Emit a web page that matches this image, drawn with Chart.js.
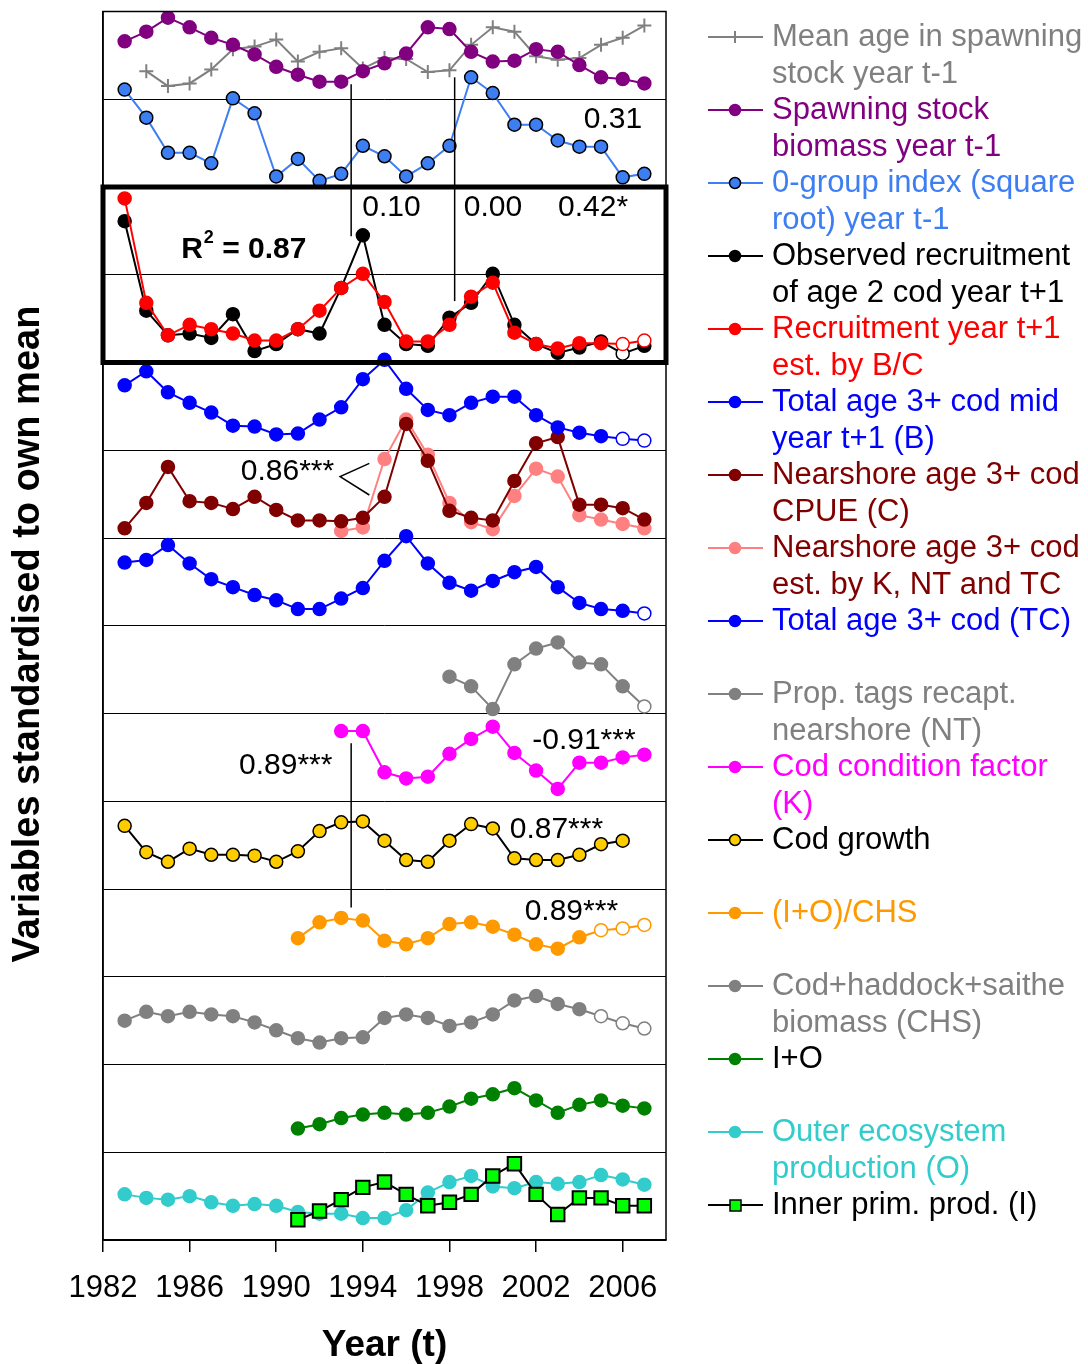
<!DOCTYPE html>
<html>
<head>
<meta charset="utf-8">
<script src="https://cdn.jsdelivr.net/npm/chart.js@4.4.1/dist/chart.umd.min.js"></script>
<style>
html, body { margin: 0; padding: 0; background: #fff; }
</style>
</head>
<body>
<canvas id="myChart" width="1088" height="1364"></canvas>
<script>
// Years and tick labels
var years = [1983,1984,1985,1986,1987,1988,1989,1990,1991,1992,1993,1994,1995,1996,1997,1998,1999,2000,2001,2002,2003,2004,2005,2006,2007];
var xTicks = [1982,1986,1990,1994,1998,2002,2006];

// Each series is shifted into its own band of the stacked plot (band height = 1 unit)
var meanAge   = [null,13.32,13.15,13.18,13.34,13.57,13.60,13.68,13.43,13.54,13.58,13.35,13.47,13.46,13.31,13.33,13.62,13.82,13.77,13.49,13.45,13.47,13.62,13.70,13.84];
var ssb       = [13.66,13.77,13.93,13.82,13.70,13.62,13.51,13.37,13.28,13.20,13.20,13.32,13.41,13.52,13.82,13.80,13.54,13.43,13.44,13.57,13.54,13.39,13.25,13.23,13.18];
var zeroGroup = [13.11,12.79,12.39,12.39,12.27,13.01,12.84,12.12,12.32,12.07,12.15,12.47,12.35,12.12,12.27,12.47,13.25,13.07,12.71,12.71,12.53,12.46,12.46,12.11,12.15];
var observed  = [11.61,10.59,10.31,10.33,10.28,10.55,10.13,10.21,10.38,10.33,10.85,11.45,10.43,10.21,10.19,10.51,10.68,11.01,10.43,10.21,10.11,10.17,10.24,10.10,10.19];
var recruitBC = [11.87,10.68,10.31,10.43,10.38,10.33,10.25,10.25,10.38,10.59,10.85,11.01,10.69,10.24,10.24,10.43,10.75,10.91,10.34,10.21,10.16,10.22,10.22,10.21,10.25];
var totalMid  = [9.74,9.90,9.66,9.54,9.43,9.28,9.27,9.18,9.19,9.35,9.49,9.81,10.03,9.70,9.46,9.40,9.54,9.61,9.61,9.40,9.26,9.20,9.16,9.13,9.11];
var cpue      = [8.11,8.40,8.81,8.42,8.40,8.33,8.47,8.32,8.20,8.20,8.19,8.23,8.47,9.30,8.88,8.31,8.23,8.20,8.65,9.08,9.15,8.38,8.38,8.34,8.21];
var cpueEst   = [null,null,null,null,null,null,null,null,null,null,8.08,8.12,8.90,9.35,8.95,8.40,8.18,8.10,8.48,8.79,8.70,8.26,8.21,8.16,8.11];
var totalTC   = [7.72,7.75,7.92,7.71,7.53,7.44,7.35,7.29,7.19,7.19,7.31,7.43,7.74,8.02,7.71,7.49,7.40,7.51,7.61,7.67,7.44,7.26,7.19,7.17,7.14];
var tagsNT    = [null,null,null,null,null,null,null,null,null,null,null,null,null,null,null,6.42,6.31,6.05,6.56,6.74,6.81,6.58,6.56,6.31,6.08];
var condK     = [null,null,null,null,null,null,null,null,null,null,5.80,5.80,5.33,5.26,5.28,5.54,5.71,5.85,5.55,5.35,5.14,5.44,5.44,5.50,5.53];
var growth    = [4.72,4.42,4.31,4.46,4.39,4.39,4.38,4.31,4.43,4.66,4.76,4.77,4.55,4.33,4.31,4.55,4.74,4.69,4.35,4.33,4.33,4.39,4.51,4.55,null];
var ioChs     = [null,null,null,null,null,null,null,null,3.44,3.62,3.67,3.64,3.41,3.37,3.44,3.60,3.62,3.57,3.48,3.37,3.32,3.45,3.53,3.55,3.59];
var chs       = [2.50,2.60,2.55,2.60,2.57,2.55,2.48,2.39,2.30,2.25,2.30,2.31,2.53,2.57,2.53,2.44,2.48,2.57,2.73,2.78,2.69,2.63,2.55,2.47,2.41];
var iPlusO    = [null,null,null,null,null,null,null,null,1.27,1.32,1.39,1.43,1.45,1.43,1.45,1.52,1.61,1.66,1.73,1.59,1.45,1.54,1.59,1.53,1.50];
var outerO    = [0.52,0.48,0.46,0.50,0.43,0.39,0.41,0.39,0.32,0.30,0.30,0.25,0.25,0.34,0.54,0.66,0.73,0.61,0.59,0.66,0.64,0.66,0.74,0.69,0.63];
var innerI    = [null,null,null,null,null,null,null,null,0.23,0.33,0.46,0.60,0.66,0.52,0.39,0.43,0.52,0.73,0.87,0.52,0.29,0.48,0.48,0.39,0.39];

var FONT = "'Liberation Sans', Arial, sans-serif";

function pts(values) {
    var out = [];
    years.forEach(function (yr, i) {
        if (values[i] !== null) out.push({ x: yr, y: values[i] });
    });
    return out;
}

// fill colours, with the last points (estimates) left open
function fills(values, color, nOpen, openAt) {
    var n = pts(values).length;
    var arr = [];
    for (var i = 0; i < n; i++) {
        var open = openAt ? openAt.indexOf(i - n) >= 0 : i >= n - nOpen;
        arr.push(open ? '#ffffff' : color);
    }
    return arr;
}

function serie(label, values, color, extra) {
    var ds = {
        label: label,
        data: pts(values),
        borderColor: color,
        borderWidth: 2,
        pointRadius: 6.5,
        pointBorderWidth: 1.5,
        pointBackgroundColor: color,
        pointBorderColor: color,
        tension: 0,
        spanGaps: false
    };
    return Object.assign(ds, extra || {});
}

var datasets = [
    serie('SSB', ssb, '#800080'),
    serie('Mean age', meanAge, '#808080', { pointStyle: 'cross', pointRadius: 7, pointBorderWidth: 2 }),
    serie('0-group', zeroGroup, '#3D7EF2', { pointBorderColor: '#000000', pointRadius: 6.5 }),
    serie('Recruitment est', recruitBC, '#FF0000', { pointBackgroundColor: fills(recruitBC, '#FF0000', 2) }),
    serie('Observed', observed, '#000000', { pointBackgroundColor: fills(observed, '#000000', 0, [-2]) }),
    serie('Total mid', totalMid, '#0000FF', { pointBackgroundColor: fills(totalMid, '#0000FF', 2) }),
    serie('CPUE', cpue, '#800000'),
    serie('CPUE est', cpueEst, '#FF8080'),
    serie('TC', totalTC, '#0000FF', { pointBackgroundColor: fills(totalTC, '#0000FF', 1) }),
    serie('NT', tagsNT, '#808080', { pointBackgroundColor: fills(tagsNT, '#808080', 1) }),
    serie('K', condK, '#FF00FF'),
    serie('Growth', growth, '#000000', { pointBackgroundColor: '#FFCC00', pointBorderColor: '#000000' }),
    serie('(I+O)/CHS', ioChs, '#FF9900', { pointBackgroundColor: fills(ioChs, '#FF9900', 3) }),
    serie('CHS', chs, '#808080', { pointBackgroundColor: fills(chs, '#808080', 3) }),
    serie('I+O', iPlusO, '#008000'),
    serie('Inner', innerI, '#000000', { pointStyle: 'rect', pointRadius: 9.5, pointBackgroundColor: '#00FF00', pointBorderColor: '#000000', pointBorderWidth: 2 }),
    serie('Outer', outerO, '#33CCCC')
];

// Correlation notes, in data units
var notes = [
    { text: '0.31', x: 2005.55, y: 12.77 },
    { text: '0.10', x: 1995.32, y: 11.76 },
    { text: '0.00', x: 2000.01, y: 11.76 },
    { text: '0.42*', x: 2004.63, y: 11.76 },
    { text: '0.86***', x: 1990.52, y: 8.76 },
    { text: '0.89***', x: 1990.44, y: 5.40 },
    { text: '-0.91***', x: 2004.21, y: 5.69 },
    { text: '0.87***', x: 2002.94, y: 4.68 },
    { text: '0.89***', x: 2003.63, y: 3.74 }
];
var noteLines = [
    [[1993.46, 13.17], [1993.46, 11.44]],
    [[1998.24, 13.25], [1998.24, 10.70]],
    [[1993.46, 5.66], [1993.46, 3.79]],
    [[1994.30, 8.85], [1992.95, 8.70], [1994.30, 8.49]]
];

var legendItems = [
    { lines: ['Mean age in spawning', 'stock year t-1'], text: '#808080', line: '#808080', fill: '#808080', edge: '#808080', mark: 'cross' },
    { lines: ['Spawning stock', 'biomass year t-1'], text: '#800080', line: '#800080', fill: '#800080', edge: '#800080' },
    { lines: ['0-group index (square', 'root) year t-1'], text: '#3D7EF2', line: '#3D7EF2', fill: '#3D7EF2', edge: '#000000' },
    { lines: ['Observed recruitment', 'of age 2 cod year t+1'], text: '#000000', line: '#000000', fill: '#000000', edge: '#000000' },
    { lines: ['Recruitment year t+1', 'est. by B/C'], text: '#FF0000', line: '#FF0000', fill: '#FF0000', edge: '#FF0000' },
    { lines: ['Total age 3+ cod mid', 'year t+1 (B)'], text: '#0000FF', line: '#0000FF', fill: '#0000FF', edge: '#0000FF' },
    { lines: ['Nearshore age 3+ cod', 'CPUE (C)'], text: '#800000', line: '#800000', fill: '#800000', edge: '#800000' },
    { lines: ['Nearshore age 3+ cod', 'est. by K, NT and TC'], text: '#800000', line: '#FF8080', fill: '#FF8080', edge: '#FF8080' },
    { lines: ['Total age 3+ cod (TC)'], text: '#0000FF', line: '#0000FF', fill: '#0000FF', edge: '#0000FF' },
    { lines: ['Prop. tags recapt.', 'nearshore (NT)'], text: '#808080', line: '#808080', fill: '#808080', edge: '#808080' },
    { lines: ['Cod condition factor', '(K)'], text: '#FF00FF', line: '#FF00FF', fill: '#FF00FF', edge: '#FF00FF' },
    { lines: ['Cod growth'], text: '#000000', line: '#000000', fill: '#FFCC00', edge: '#000000' },
    { lines: ['(I+O)/CHS'], text: '#FF9900', line: '#FF9900', fill: '#FF9900', edge: '#FF9900' },
    { lines: ['Cod+haddock+saithe', 'biomass (CHS)'], text: '#808080', line: '#808080', fill: '#808080', edge: '#808080' },
    { lines: ['I+O'], text: '#000000', line: '#008000', fill: '#008000', edge: '#008000' },
    { lines: ['Outer ecosystem', 'production (O)'], text: '#33CCCC', line: '#33CCCC', fill: '#33CCCC', edge: '#33CCCC' },
    { lines: ['Inner prim. prod. (I)'], text: '#000000', line: '#000000', fill: '#00FF00', edge: '#000000', mark: 'rect' }
];

var extras = {
    id: 'extras',
    afterDatasetsDraw: function (chart) {
        var ctx = chart.ctx, a = chart.chartArea;
        var xs = chart.scales.x, ys = chart.scales.y;
        ctx.save();
        // frame
        ctx.strokeStyle = '#000';
        ctx.lineWidth = 1.5;
        ctx.strokeRect(a.left, a.top, a.right - a.left, a.bottom - a.top);
        // thick box round the recruitment panel
        ctx.lineWidth = 5;
        var yb1 = ys.getPixelForValue(12), yb2 = ys.getPixelForValue(10);
        ctx.strokeRect(a.left, yb1, a.right - a.left, yb2 - yb1);
        // connector lines
        ctx.lineWidth = 1.5;
        noteLines.forEach(function (l) {
            ctx.beginPath();
            l.forEach(function (p, i) {
                var px = xs.getPixelForValue(p[0]), py = ys.getPixelForValue(p[1]);
                if (i === 0) ctx.moveTo(px, py); else ctx.lineTo(px, py);
            });
            ctx.stroke();
        });
        // notes
        ctx.fillStyle = '#000';
        ctx.font = '30px ' + FONT;
        ctx.textAlign = 'center';
        ctx.textBaseline = 'middle';
        notes.forEach(function (n) {
            ctx.fillText(n.text, xs.getPixelForValue(n.x), ys.getPixelForValue(n.y));
        });
        // R2 label
        var rx = xs.getPixelForValue(1985.61), ry = ys.getPixelForValue(11.29);
        ctx.textAlign = 'left';
        ctx.font = 'bold 30px ' + FONT;
        ctx.fillText('R', rx, ry);
        var w = ctx.measureText('R').width;
        ctx.font = 'bold 18px ' + FONT;
        ctx.fillText('2', rx + w + 1, ry - 11);
        var w2 = ctx.measureText('2').width;
        ctx.font = 'bold 30px ' + FONT;
        ctx.fillText(' = 0.87', rx + w + w2 + 1, ry);
        ctx.restore();
    },
    afterDraw: function (chart) {
        var ctx = chart.ctx;
        ctx.save();
        // axis titles
        ctx.fillStyle = '#000';
        ctx.textAlign = 'center';
        ctx.textBaseline = 'middle';
        ctx.font = 'bold 37px ' + FONT;
        ctx.fillText('Year (t)', (chart.chartArea.left + chart.chartArea.right) / 2, 1346);
        ctx.font = 'bold 38px ' + FONT;
        ctx.translate(29, 634);
        ctx.rotate(-Math.PI / 2);
        ctx.fillText('Variables standardised to own mean', 0, 0);
        ctx.restore();

        // legend
        ctx.save();
        ctx.font = '31px ' + FONT;
        ctx.textAlign = 'left';
        ctx.textBaseline = 'middle';
        legendItems.forEach(function (e, i) {
            var yc = 37 + 73 * i;
            ctx.strokeStyle = e.line;
            ctx.lineWidth = 2;
            ctx.beginPath();
            ctx.moveTo(708, yc);
            ctx.lineTo(763, yc);
            ctx.stroke();
            if (e.mark === 'cross') {
                ctx.strokeStyle = e.edge;
                ctx.beginPath();
                ctx.moveTo(735, yc - 6); ctx.lineTo(735, yc + 6);
                ctx.stroke();
            } else if (e.mark === 'rect') {
                ctx.fillStyle = e.fill;
                ctx.fillRect(730, yc - 5, 11, 11);
                ctx.strokeStyle = e.edge;
                ctx.lineWidth = 1.5;
                ctx.strokeRect(730, yc - 5, 11, 11);
            } else {
                ctx.fillStyle = e.fill;
                ctx.beginPath();
                ctx.arc(735, yc, 5.5, 0, Math.PI * 2);
                ctx.fill();
                ctx.strokeStyle = e.edge;
                ctx.lineWidth = 1.5;
                ctx.stroke();
            }
            ctx.fillStyle = e.text;
            e.lines.forEach(function (t, k) {
                ctx.fillText(t, 772, yc + 37 * k);
            });
        });
        ctx.restore();
    }
};

var ctx = document.getElementById('myChart').getContext('2d');
var myChart = new Chart(ctx, {
    type: 'line',
    data: { datasets: datasets },
    options: {
        responsive: false,
        animation: false,
        devicePixelRatio: 1,
        layout: { padding: { left: 103, right: 422, top: 10, bottom: 0 } },
        plugins: {
            legend: { display: false },
            tooltip: { enabled: false }
        },
        scales: {
            x: {
                type: 'linear',
                min: 1982,
                max: 2008,
                afterBuildTicks: function (scale) {
                    scale.ticks = xTicks.map(function (v) { return { value: v }; });
                },
                afterFit: function (scale) { scale.height = 124; },
                grid: { drawOnChartArea: false, drawTicks: true, tickLength: 12, color: '#000', lineWidth: 1.5 },
                border: { color: '#000', width: 1.5 },
                ticks: {
                    color: '#000',
                    font: { size: 31, family: FONT },
                    padding: 18,
                    maxRotation: 0,
                    autoSkip: false,
                    callback: function (v) { return String(v); }
                }
            },
            y: {
                min: 0,
                max: 14,
                ticks: { stepSize: 1, display: false },
                grid: { color: '#000', lineWidth: 1, drawTicks: false },
                border: { color: '#000', width: 1.5 },
                afterFit: function (scale) { scale.width = 0; }
            }
        }
    },
    plugins: [extras]
});
</script>
</body>
</html>
